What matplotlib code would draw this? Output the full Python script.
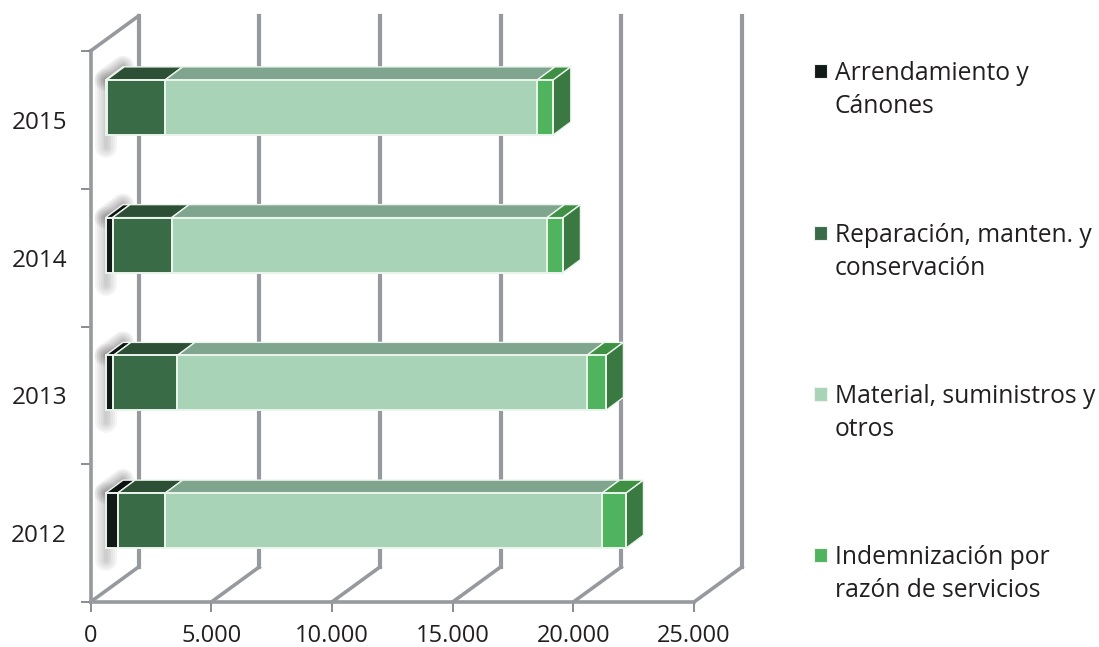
import matplotlib
matplotlib.use('Agg')
from matplotlib import pyplot as plt
from matplotlib.patches import Polygon, Rectangle

plt.rcParams['font.family'] = ['Open Sans', 'DejaVu Sans']

years = ['2012', '2013', '2014', '2015']
arrendamiento = [500, 330, 290, 50]
reparacion = [1970, 2650, 2450, 2420]
material = [18100, 16960, 15550, 15420]
indemnizacion = [990, 790, 660, 660]
xticks = [0, 5000, 10000, 15000, 20000, 25000]
xtick_labels = ['0', '5.000', '10.000', '15.000', '20.000', '25.000']

series = [arrendamiento, reparacion, material, indemnizacion]
series_names = ['Arrendamiento y\nCánones', 'Reparación, manten. y\nconservación',
                'Material, suministros y\notros', 'Indemnización por\nrazón de servicios']
front_cols = ['#121a18', '#3a6b47', '#a8d3b6', '#4fb45d']
top_cols = ['#0e1412', '#2d4f36', '#80a58f', '#3f8f45']
side_col = '#3a7a42'
edge_col = '#eaf4ec'
grid_col = '#969a9e'
text_col = '#231f20'
legend_y = [71, 233, 394, 555]

W, H = 1099, 647
fig = plt.figure(figsize=(W/100, H/100), dpi=100)
ax = fig.add_axes([90.5/W, 1-602/H, 603.5/W, 551/H])
ax.set_xlim(0, 25000)
ax.set_ylim(0, 4)

# pixel sizes of the fake 3d, turned into data units
px_x = 25000/603.5
px_y = 4/551
wall_dx, wall_dy = 48*px_x, 35*px_y
bar_shift_x, bar_shift_y = 15*px_x, 12.5*px_y
bar_dx, bar_dy = 17.5*px_x, 13*px_y
bar_h = 55*px_y

# back wall and floor
for x in xticks:
    ax.plot([x+wall_dx, x+wall_dx], [wall_dy, 4+wall_dy], color=grid_col, lw=3, clip_on=False, zorder=1)
    ax.plot([x, x+wall_dx], [0, wall_dy], color=grid_col, lw=2.6, clip_on=False, zorder=1)
ax.plot([0, wall_dx], [4, 4+wall_dy], color=grid_col, lw=2.6, clip_on=False, zorder=1)

for i in range(len(years)):
    yc = i + 0.5 + bar_shift_y
    y0 = yc - bar_h/2
    y1 = yc + bar_h/2
    xl = bar_shift_x

    # soft shadow left of the bar
    for lw in [22, 18, 14, 10, 7, 4]:
        ax.plot([xl, xl], [y0-12*px_y, y1], color='#6a6569', alpha=0.06, lw=lw*0.72,
                solid_capstyle='round', clip_on=False, zorder=2)
        ax.plot([xl, xl+bar_dx], [y1, y1+bar_dy], color='#5f5a5e', alpha=0.09, lw=lw*0.72,
                solid_capstyle='round', clip_on=False, zorder=2)

    for vals, fc, tc in zip(series, front_cols, top_cols):
        w = vals[i]
        ax.barh(yc, w, left=xl, height=bar_h, color=fc, edgecolor=edge_col, linewidth=1.4, zorder=4)
        ax.add_patch(Polygon([(xl, y1), (xl+w, y1), (xl+w+bar_dx, y1+bar_dy), (xl+bar_dx, y1+bar_dy)],
                             closed=True, facecolor=tc, edgecolor=edge_col, linewidth=1.0, zorder=3, clip_on=False))
        xl += w

    ax.add_patch(Polygon([(xl, y0), (xl+bar_dx, y0+bar_dy), (xl+bar_dx, y1+bar_dy), (xl, y1)],
                         closed=True, facecolor=side_col, edgecolor=edge_col, linewidth=1.0, zorder=3, clip_on=False))

# axes
for s in ['top', 'right']:
    ax.spines[s].set_visible(False)
for s in ['left', 'bottom']:
    ax.spines[s].set_color(grid_col)
    ax.spines[s].set_linewidth(2.6)
    ax.spines[s].set_zorder(2)
ax.patch.set_alpha(0)
ax.set_xticks(xticks)
ax.set_xticklabels(xtick_labels)
ax.set_yticks([0, 1, 2, 3, 4])
ax.set_yticklabels([])
ax.set_yticks([0.5, 1.5, 2.5, 3.5], minor=True)
ax.set_yticklabels(years, minor=True)
ax.tick_params(axis='x', length=7, width=1.2, color='#77797c', labelsize=17, labelcolor=text_col, pad=8.5)
ax.tick_params(axis='y', which='major', length=7, width=1.2, color='#77797c')
ax.tick_params(axis='y', which='minor', length=0, labelsize=17.5, labelcolor=text_col, pad=17)

# legend, baseline of a two line text is the one of its last line
for name, col, ly in zip(series_names, front_cols, legend_y):
    fig.add_artist(Rectangle((814/W, 1-(ly+7)/H), 13/W, 14/H, transform=fig.transFigure,
                             facecolor=col, edgecolor='#eef3ef', linewidth=0.8))
    fig.text(835/W, 1-(ly+42)/H, name, fontsize=17.7, color=text_col, va='baseline', ha='left', linespacing=1.41)

fig.savefig('out.png', dpi=100)
